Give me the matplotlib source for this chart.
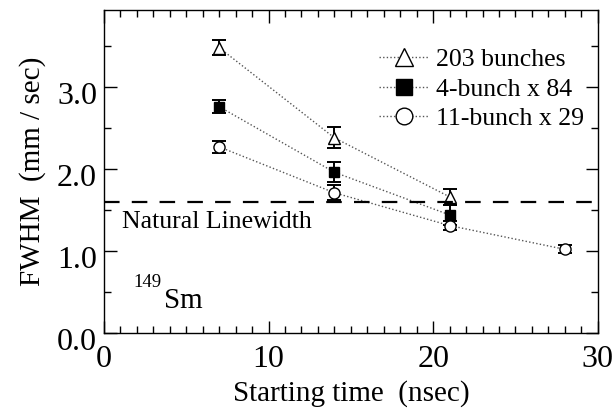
import matplotlib
matplotlib.use("Agg")
import matplotlib.pyplot as plt
import matplotlib.transforms as mtransforms
from matplotlib.ticker import MultipleLocator, FixedLocator, FormatStrFormatter

plt.rcParams["font.family"] = ["Liberation Serif", "DejaVu Serif"]

# data
t_203 = [7, 14, 21]
fwhm_203 = [3.48, 2.38, 1.66]
err_203 = [0.09, 0.13, 0.10]

t_4x84 = [7, 14, 21]
fwhm_4x84 = [2.76, 1.96, 1.44]
err_4x84 = [0.08, 0.12, 0.12]

t_11x29 = [7, 14, 21, 28]
fwhm_11x29 = [2.27, 1.71, 1.31, 1.02]
err_11x29 = [0.07, 0.09, 0.06, 0.05]

natural_width = 1.6

fig = plt.figure(figsize=(6.15, 4.19), dpi=100)
ax = fig.add_axes([0.169, 0.2053, 0.803, 0.771])

line_kw = dict(color="#555555", lw=1.0, linestyle=(0, (1, 1.6)))
err_kw = dict(fmt="none", ecolor="black", elinewidth=1.4, capsize=5, capthick=1.4)

ax.errorbar(t_203, fwhm_203, yerr=err_203, **err_kw)
ax.errorbar(t_4x84, fwhm_4x84, yerr=err_4x84, **err_kw)
ax.errorbar(t_11x29, fwhm_11x29, yerr=err_11x29, **err_kw)

ax.plot(t_203, fwhm_203, marker="^", ms=9, mfc="white", mec="black", mew=1.0,
        label="203 bunches", **line_kw)
ax.plot(t_4x84, fwhm_4x84, marker="s", ms=7.5, mfc="black", mec="black",
        label="4-bunch x 84", **line_kw)
ax.plot(t_11x29, fwhm_11x29, marker="o", ms=8, mfc="white", mec="black", mew=1.0,
        label="11-bunch x 29", **line_kw)

ax.axhline(natural_width, color="black", lw=1.6, linestyle=(0, (7, 5.5)))
ax.text(1.1, 1.35, "Natural Linewidth", fontsize=18.5, va="center", ha="left")

ax.text(1.76, 0.56, "149", fontsize=13.5, ha="left", va="baseline")
ax.text(3.64, 0.30, "Sm", fontsize=21, ha="left", va="baseline")

ax.set_xlim(0, 30)
ax.set_ylim(0, 3.94)
ax.xaxis.set_major_locator(MultipleLocator(10))
ax.xaxis.set_minor_locator(MultipleLocator(1))
ax.yaxis.set_major_locator(FixedLocator([0, 1, 2, 3]))
ax.yaxis.set_minor_locator(FixedLocator([0.5, 1.5, 2.5, 3.5]))
ax.yaxis.set_major_formatter(FormatStrFormatter("%.1f"))

ax.tick_params(which="both", direction="in", top=True, right=True, width=1.0,
               labelsize=23)
ax.tick_params(which="major", length=9)
ax.tick_params(which="minor", length=5)
ax.tick_params(axis="x", pad=9)
ax.tick_params(axis="y", pad=5)
for s in ax.spines.values():
    s.set_linewidth(1.0)

# y tick labels sit a little below their ticks in the original
shift = mtransforms.ScaledTranslation(0, -6 / 100, fig.dpi_scale_trans)
for lab in ax.get_yticklabels():
    lab.set_transform(lab.get_transform() + shift)

ax.set_xlabel("Starting time  (nsec)", fontsize=21, labelpad=4)
ax.set_ylabel("FWHM  (mm / sec)", fontsize=21, labelpad=8)

ax.legend(loc="upper right", bbox_to_anchor=(1.0, 0.925), frameon=False, fontsize=18.5,
          handlelength=1.9, handletextpad=0.3, labelspacing=0.25, markerscale=1.5,
          borderaxespad=0.15)

fig.savefig("out.png", dpi=100)
